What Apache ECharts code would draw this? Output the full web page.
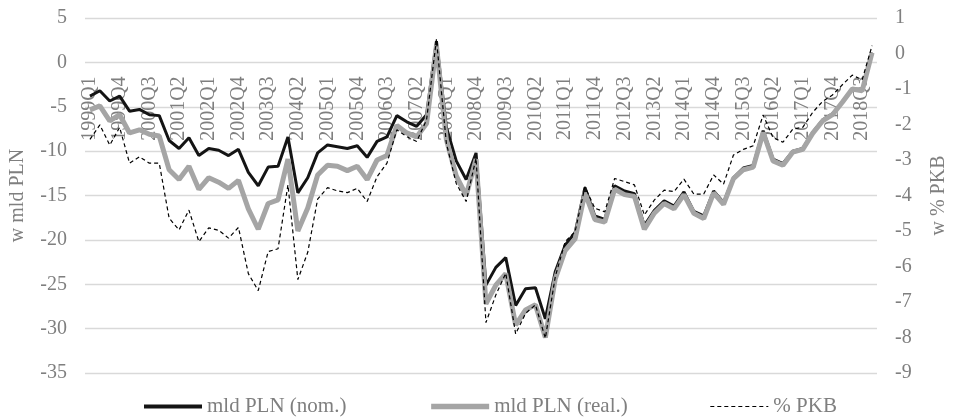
<!DOCTYPE html>
<html>
<head>
<meta charset="utf-8">
<script src="https://cdn.jsdelivr.net/npm/echarts@6/dist/echarts.min.js"></script>
<style>
  html, body { margin: 0; padding: 0; background: #fff; }
  #chart { width: 957px; height: 418px; }
</style>
</head>
<body>
<div id="chart"></div>
<script>
// Quarters 1999Q1 .. 2018Q4
const years = [];
for (let y = 1999; y <= 2018; y++) years.push(y);
const quarters = [];
years.forEach(y => { for (let q = 1; q <= 4; q++) quarters.push(y + 'Q' + q); });

// Balance in bn PLN, nominal
const nominal = [
  -3.8, -3.2, -4.35, -3.8, -5.5, -5.3, -5.9, -6.0,
  -8.8, -9.7, -8.5, -10.5, -9.7, -9.9, -10.5, -9.8,
  -12.4, -13.9, -11.8, -11.7, -8.4, -14.7, -13.0, -10.2,
  -9.3, -9.5, -9.7, -9.4, -10.7, -8.9, -8.4, -6.0,
  -6.7, -7.2, -5.9, 2.4, -7.3, -11.1, -13.2, -10.2,
  -25.1, -23.1, -22.0, -27.4, -25.5, -25.4, -28.9, -23.6,
  -20.6, -19.2, -14.1, -17.3, -17.7, -13.9, -14.5, -14.8,
  -18.4, -16.7, -15.6, -16.2, -14.6, -16.8, -17.3, -14.5,
  -15.8, -13.0, -11.9, -11.6, -7.7, -10.9, -11.4, -10.0,
  -9.7, -7.9, -6.5, -5.8, -4.45, -2.95, -3.15, 1.1
];

// Balance in bn PLN, real
const real = [
  -5.35, -4.9, -6.6, -5.9, -7.95, -7.6, -8.1, -8.3,
  -12.1, -13.2, -11.7, -14.3, -13.0, -13.5, -14.2, -13.3,
  -16.5, -18.8, -15.9, -15.5, -10.9, -19.0, -16.4, -12.7,
  -11.6, -11.7, -12.2, -11.7, -13.2, -11.0, -10.5, -7.1,
  -7.95, -8.4, -6.9, 1.9, -8.7, -12.8, -15.0, -10.9,
  -27.2, -25.1, -23.8, -29.6, -27.9, -27.3, -31.0, -24.4,
  -21.2, -19.9, -14.7, -17.7, -18.0, -14.3, -14.9, -15.1,
  -18.8, -17.0, -15.9, -16.5, -14.9, -17.0, -17.6, -14.7,
  -16.0, -13.1, -12.1, -11.8, -7.9, -11.1, -11.6, -10.1,
  -9.8, -8.0, -6.6, -5.9, -4.5, -3.0, -3.2, 1.1
];

// Balance as % of GDP (right axis)
const pctGdp = [
  -2.42, -2.01, -2.58, -2.08, -3.09, -2.91, -3.09, -3.09,
  -4.64, -4.97, -4.41, -5.30, -4.91, -4.98, -5.2, -4.9,
  -6.2, -6.68, -5.58, -5.5, -3.7, -6.37, -5.6, -4.1,
  -3.78, -3.87, -3.92, -3.8, -4.17, -3.47, -3.09, -2.15,
  -2.34, -2.48, -1.87, 0.4, -2.53, -3.66, -4.17, -2.95,
  -7.58, -6.8, -6.19, -7.9, -7.32, -7.08, -8.02, -6.29,
  -5.3, -5.02, -3.75, -4.36, -4.46, -3.52, -3.61, -3.70,
  -4.55, -4.13, -3.85, -3.89, -3.54, -3.96, -3.96, -3.42,
  -3.68, -2.86, -2.70, -2.60, -1.73, -2.37, -2.5, -2.13,
  -2.08, -1.66, -1.35, -1.17, -0.88, -0.61, -0.74, 0.22
];

const seriesNames = ['mld PLN (nom.)', 'mld PLN (real.)', '% PKB'];
const leftAxisTitle = 'w mld PLN';
const rightAxisTitle = 'w % PKB';
const leftRange = { min: -35, max: 5, interval: 5 };
const rightRange = { min: -9, max: 1, interval: 1 };

const FONT = '"Liberation Serif", "Times New Roman", serif';
const TEXT = '#7f7f7f';
const C_NOM = '#141414', C_REAL = '#a5a5a5', C_PCT = '#000';

const W = 957, H = 418;
const gridBox = { left: 82, right: 78, top: 18, bottom: 45 };
// Category labels hang from the zero line of the left axis
const plotH = H - gridBox.top - gridBox.bottom;
const zeroFromBottom = plotH * (0 - leftRange.min) / (leftRange.max - leftRange.min);

const chart = echarts.init(document.getElementById('chart'), null, { renderer: 'canvas', width: W, height: H });
chart.setOption({
  animation: false,
  textStyle: { fontFamily: FONT },
  grid: gridBox,
  legend: {
    left: 137, top: 391,
    itemWidth: 58, itemHeight: 10, itemGap: 82,
    itemStyle: { opacity: 0 },
    textStyle: { fontFamily: FONT, fontSize: 21, color: TEXT },
    data: [
      { name: seriesNames[0], lineStyle: { color: C_NOM, width: 4 } },
      { name: seriesNames[1], lineStyle: { color: C_REAL, width: 5.5 } },
      { name: seriesNames[2], lineStyle: { color: C_PCT, width: 1.2, type: [4, 3] } }
    ]
  },
  xAxis: {
    type: 'category',
    data: quarters,
    boundaryGap: true,
    position: 'bottom',
    offset: -zeroFromBottom,
    axisLine: { show: false, onZero: false },
    axisTick: { show: false },
    axisLabel: {
      interval: 2, rotate: 90, margin: 14,
      fontFamily: FONT, fontSize: 20, color: TEXT
    },
    splitLine: { show: false }
  },
  yAxis: [
    {
      type: 'value', min: leftRange.min, max: leftRange.max, interval: leftRange.interval,
      name: leftAxisTitle, nameLocation: 'middle', nameGap: 57,
      nameTextStyle: { fontFamily: FONT, fontSize: 20, color: TEXT },
      axisLine: { show: false }, axisTick: { show: false },
      axisLabel: { margin: 18, fontFamily: FONT, fontSize: 20, color: TEXT },
      splitLine: { lineStyle: { color: '#d9d9d9', width: 1.3 } }
    },
    {
      type: 'value', min: rightRange.min, max: rightRange.max, interval: rightRange.interval,
      name: rightAxisTitle, nameLocation: 'middle', nameGap: 52,
      nameTextStyle: { fontFamily: FONT, fontSize: 20, color: TEXT },
      axisLine: { show: false }, axisTick: { show: false },
      axisLabel: { margin: 18, fontFamily: FONT, fontSize: 20, color: TEXT },
      splitLine: { show: false }
    }
  ],
  series: [
    {
      name: seriesNames[0], type: 'line', yAxisIndex: 0, data: nominal,
      symbol: 'none', lineStyle: { color: C_NOM, width: 3 },
      itemStyle: { color: C_NOM }
    },
    {
      name: seriesNames[1], type: 'line', yAxisIndex: 0, data: real,
      symbol: 'none', lineStyle: { color: C_REAL, width: 5 },
      itemStyle: { color: C_REAL }
    },
    {
      name: seriesNames[2], type: 'line', yAxisIndex: 1, data: pctGdp,
      symbol: 'none', lineStyle: { color: C_PCT, width: 1.2, type: [4, 3] },
      itemStyle: { color: C_PCT }
    }
  ]
});
</script>
</body>
</html>
